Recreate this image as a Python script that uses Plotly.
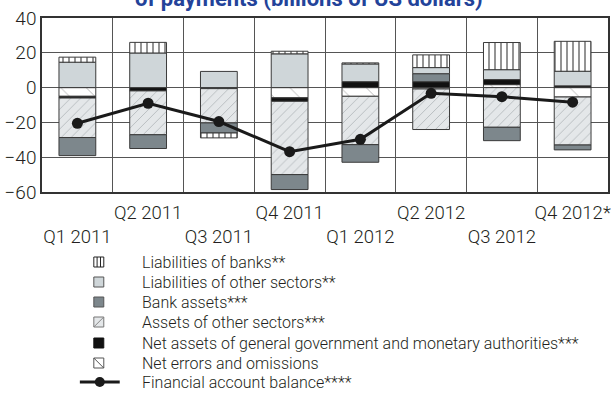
import plotly.graph_objects as go

# Quarterly financial account components (billions of US dollars)
quarters = ["Q1 2011", "Q2 2011", "Q3 2011", "Q4 2011",
            "Q1 2012", "Q2 2012", "Q3 2012", "Q4 2012*"]
liab_banks = [2.9, 6.1, -2.8, 1.5, 0.6, 7.3, 15.6, 17.2]
liab_other = [14.6, 19.9, 9.3, 19.4, 10.2, 3.5, 5.7, 8.4]
bank_assets = [-10.4, -7.9, -5.8, -8.6, -10.1, 4.6, -7.7, -2.8]
assets_other = [-22.7, -25.2, -19.7, -42.1, -27.8, -23.3, -22.8, -27.6]
net_gov = [-1.0, -1.9, -0.6, -2.0, 3.4, 3.4, 2.9, 1.0]
net_errors = [-5.0, 0.0, 0.0, -5.9, -5.0, -0.8, 1.7, -5.4]
fin_balance = [-20.5, -9.0, -19.5, -36.8, -29.7, -3.3, -5.2, -8.4]

legend_labels = [
    "Liabilities of banks**",
    "Liabilities of other sectors**",
    "Bank assets***",
    "Assets of other sectors***",
    "Net assets of general government and monetary authorities***",
    "Net errors and omissions",
    "Financial account balance****",
]

FONT = "Roboto, Liberation Sans, sans-serif"
TEXT = "#231f20"
GRID = "#555555"
EDGE = "#3a3a3a"

C_LIAB_OTHER = "#cfd6d9"
C_BANK = "#7d878c"
C_ASSETS_BG = "#e4e7e9"
C_GOV = "#111111"

x = list(range(len(quarters)))

fig = go.Figure()

def add_bar(vals, color, pattern=None):
    marker = dict(color=color, line=dict(color=EDGE, width=1))
    if pattern:
        marker["pattern"] = pattern
    fig.add_trace(go.Bar(x=x, y=vals, marker=marker, width=0.52,
                         showlegend=False, hoverinfo="y"))

# stacking order: first trace sits next to zero
add_bar(net_errors, "white",
        dict(shape="\\", fgcolor="#666666", bgcolor="white", size=18, solidity=0.05))
add_bar(net_gov, C_GOV)
add_bar(assets_other, C_ASSETS_BG,
        dict(shape="/", fgcolor="#8d9397", bgcolor=C_ASSETS_BG, size=7, solidity=0.14))
add_bar(bank_assets, C_BANK)
add_bar(liab_other, C_LIAB_OTHER)
add_bar(liab_banks, "white",
        dict(shape="|", fgcolor="#111111", bgcolor="white", size=6, solidity=0.3))

fig.add_trace(go.Scatter(x=x, y=fin_balance, mode="lines+markers",
                         line=dict(color="#1a1a1a", width=3),
                         marker=dict(color="#1a1a1a", size=11),
                         showlegend=False))

# staggered category labels
ticktext = [("<br>" + q) if i % 2 == 0 else q for i, q in enumerate(quarters)]

L, R, T, B = 42, 1, 18, 205
W, H = 611, 397
PW, PH = W - L - R, H - T - B

fig.update_layout(
    width=W, height=H,
    margin=dict(l=L, r=R, t=T, b=B),
    barmode="relative",
    plot_bgcolor="white", paper_bgcolor="white",
    showlegend=False,
    font=dict(family=FONT, size=16, color=TEXT, weight=300),
    xaxis=dict(range=[-0.5, len(quarters) - 0.5], tickmode="array",
               tickvals=x, ticktext=ticktext, tickangle=0,
               showgrid=False, zeroline=False, ticklabelstandoff=3,
               ticks="", showline=True, mirror=True, linecolor="#333333", linewidth=1.5,
               minor=dict(tickmode="array", tickvals=[i + 0.5 for i in x[:-1]],
                          showgrid=True, gridcolor=GRID, gridwidth=1, ticks=""),
               tickfont=dict(size=18.5, family=FONT, weight=300)),
    yaxis=dict(range=[-60, 40], tickmode="linear", tick0=-60, dtick=20,
               showgrid=True, gridcolor=GRID, gridwidth=1,
               zeroline=True, zerolinecolor=GRID, zerolinewidth=1,
               ticks="", showline=True, mirror=True, linecolor="#333333", linewidth=1.5,
               tickfont=dict(size=19, family=FONT, weight=300)),
)

def pxx(p):
    return (p - L) / PW

def pyy(p):
    return (T + PH - p) / PH

# title line
fig.add_annotation(text="<b>of payments (billions of US dollars)</b>",
                   xref="paper", yref="paper", x=pxx(310), y=pyy(13),
                   xanchor="center", yanchor="bottom", showarrow=False,
                   font=dict(size=22, color="#23439a", family=FONT, weight=700))

# legend
rows = [262, 282, 302, 322, 343, 363, 382]
sx, half = 99, 5

def key_rect(yc, fill, line_color=EDGE):
    fig.add_shape(type="rect", xref="paper", yref="paper",
                  x0=pxx(sx - half), x1=pxx(sx + half),
                  y0=pyy(yc + half), y1=pyy(yc - half),
                  fillcolor=fill, line=dict(color=line_color, width=1))

def key_line(x0, y0, x1, y1, color, width=1):
    fig.add_shape(type="line", xref="paper", yref="paper",
                  x0=pxx(x0), x1=pxx(x1), y0=pyy(y0), y1=pyy(y1),
                  line=dict(color=color, width=width))

key_rect(rows[0], "white", "#222222")
for dx in (-1.7, 1.7):
    key_line(sx + dx, rows[0] - half, sx + dx, rows[0] + half, "#222222", 1)
key_rect(rows[1], C_LIAB_OTHER, "#555555")
key_rect(rows[2], C_BANK, "#555555")
key_rect(rows[3], C_ASSETS_BG, "#777777")
key_line(sx - half, rows[3] + half, sx + half, rows[3] - half, "#888888", 1)
key_rect(rows[4], C_GOV, C_GOV)
key_rect(rows[5], "white", "#555555")
key_line(sx - half, rows[5] - half, sx + half, rows[5] + half, "#555555", 1)
key_line(80, rows[6], 120, rows[6], "#1a1a1a", 3)
fig.add_shape(type="circle", xref="paper", yref="paper",
              x0=pxx(sx + 1 - 5), x1=pxx(sx + 1 + 5),
              y0=pyy(rows[6] + 5), y1=pyy(rows[6] - 5),
              fillcolor="#1a1a1a", line=dict(color="#1a1a1a", width=0))

for label, yc in zip(legend_labels, rows):
    fig.add_annotation(text=label, xref="paper", yref="paper",
                       x=pxx(140), y=pyy(yc), xanchor="left", yanchor="middle",
                       showarrow=False,
                       font=dict(size=16, color=TEXT, family=FONT, weight=300))

fig.write_html("out.html")
